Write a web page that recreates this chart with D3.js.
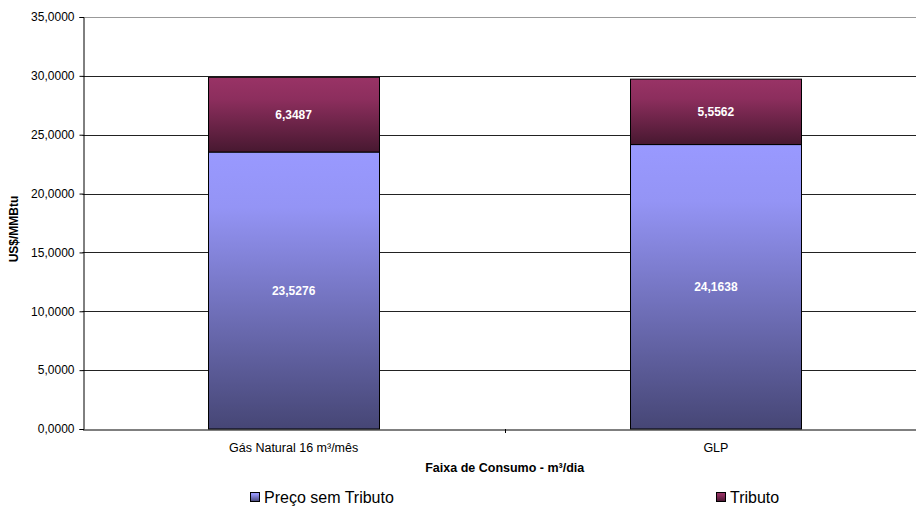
<!DOCTYPE html>
<html><head><meta charset="utf-8">
<script src="https://cdn.jsdelivr.net/npm/d3@7"></script>
<style>body{margin:0;background:#fff}svg{display:block}text{font-family:"Liberation Sans",Arial,sans-serif}</style>
</head><body><svg id="c" width="916" height="511"></svg>
<script>
const categories = ["Gás Natural 16 m³/mês", "GLP"];
const precoSemTributo = [23.5276, 24.1638];
const tributo = [6.3487, 5.5562];
const yTicks = [0, 5, 10, 15, 20, 25, 30, 35];
const seriesNames = ["Preço sem Tributo", "Tributo"];

const svg = d3.select("#c");
const m = {l: 82.5, r: 927, t: 17, b: 429};
const x = d3.scaleBand().domain(categories).range([m.l, m.r]).paddingInner(0.595).paddingOuter(0.2975);
const y = d3.scaleLinear().domain([0, 35]).range([m.b, m.t]);
const fmt = v => d3.format(".4f")(v).replace(".", ",");

const defs = svg.append("defs");
const g1 = defs.append("linearGradient").attr("id","gP").attr("x1",0).attr("y1",0).attr("x2",0).attr("y2",1);
g1.append("stop").attr("offset","0%").attr("stop-color","#9999ff");
g1.append("stop").attr("offset","20%").attr("stop-color","#9494f5");
g1.append("stop").attr("offset","100%").attr("stop-color","#464675");
const g2 = defs.append("linearGradient").attr("id","gT").attr("x1",0).attr("y1",0).attr("x2",0).attr("y2",1);
g2.append("stop").attr("offset","0%").attr("stop-color","#993366");
g2.append("stop").attr("offset","30%").attr("stop-color","#8c2e5d");
g2.append("stop").attr("offset","100%").attr("stop-color","#471830");

// gridlines
svg.append("g").selectAll("line").data(yTicks.filter(d=>d>0)).join("line")
  .attr("x1", m.l).attr("x2", m.r).attr("y1", d=>Math.round(y(d))+0.5).attr("y2", d=>Math.round(y(d))+0.5)
  .attr("stroke", d=> d===35 ? "#999" : "#222").attr("stroke-width",1);

// y axis
const ya = svg.append("g").attr("transform",`translate(${Math.round(m.l)+0.5},0)`)
  .call(d3.axisLeft(y).tickValues(yTicks).tickFormat(fmt).tickSize(4).tickPadding(5));
ya.select(".domain").attr("stroke","#000");
ya.selectAll(".tick line").attr("stroke","#000");
ya.selectAll(".tick text").attr("font-size","12px").attr("fill","#000").attr("font-family","Liberation Sans, Arial, sans-serif");

// bars
const stackData = categories.map((c,i)=>({c, p: precoSemTributo[i], t: tributo[i]}));
const bars = svg.append("g");
stackData.forEach(d=>{
  const x0 = Math.round(x(d.c))+0.5, w = Math.round(x.bandwidth());
  bars.append("rect").attr("x",x0).attr("width",w).attr("y",y(d.p)).attr("height",y(0)-y(d.p))
    .attr("fill","url(#gP)").attr("stroke","#000").attr("stroke-width",1);
  bars.append("rect").attr("x",x0).attr("width",w).attr("y",y(d.p+d.t)).attr("height",y(d.p)-y(d.p+d.t))
    .attr("fill","url(#gT)").attr("stroke","#000").attr("stroke-width",1);
  bars.append("text").attr("x",x(d.c)+x.bandwidth()/2).attr("y",(y(0)+y(d.p))/2+4)
    .attr("text-anchor","middle").attr("fill","#fff").attr("font-weight","bold").attr("font-size","12px").text(fmt(d.p));
  bars.append("text").attr("x",x(d.c)+x.bandwidth()/2).attr("y",(y(d.p)+y(d.p+d.t))/2+4)
    .attr("text-anchor","middle").attr("fill","#fff").attr("font-weight","bold").attr("font-size","12px").text(fmt(d.t));
});

// x axis
const xa = svg.append("g").attr("transform",`translate(0,${Math.round(m.b)+0.5})`)
  .call(d3.axisBottom(x).tickSize(0).tickPadding(14));
xa.select(".domain").attr("stroke","#000");
xa.selectAll(".tick text").attr("font-size","12.5px").attr("fill","#000").attr("font-family","Liberation Sans, Arial, sans-serif");
// category separator tick
const sep = (x(categories[0]) + x.bandwidth() + x(categories[1]))/2;
svg.append("line").attr("x1",Math.round(sep)+0.5).attr("x2",Math.round(sep)+0.5).attr("y1",m.b).attr("y2",m.b+4).attr("stroke","#000");

// axis titles
svg.append("text").attr("x",(m.l+m.r)/2).attr("y",472).attr("text-anchor","middle")
  .attr("font-weight","bold").attr("font-size","12.5px").text("Faixa de Consumo - m³/dia");
svg.append("text").attr("transform","translate(18,229) rotate(-90)").attr("text-anchor","middle")
  .attr("font-weight","bold").attr("font-size","12px").text("US$/MMBtu");

// legend
const leg = [{n: seriesNames[0], x: 250, f: "url(#gP)"}, {n: seriesNames[1], x: 716, f: "url(#gT)"}];
leg.forEach(l=>{
  svg.append("rect").attr("x",l.x+0.5).attr("y",492.5).attr("width",9).attr("height",9).attr("fill",l.f).attr("stroke","#000");
  svg.append("text").attr("x",l.x+14).attr("y",503).attr("font-size","16px").attr("fill","#000").text(l.n);
});
</script></body></html>
